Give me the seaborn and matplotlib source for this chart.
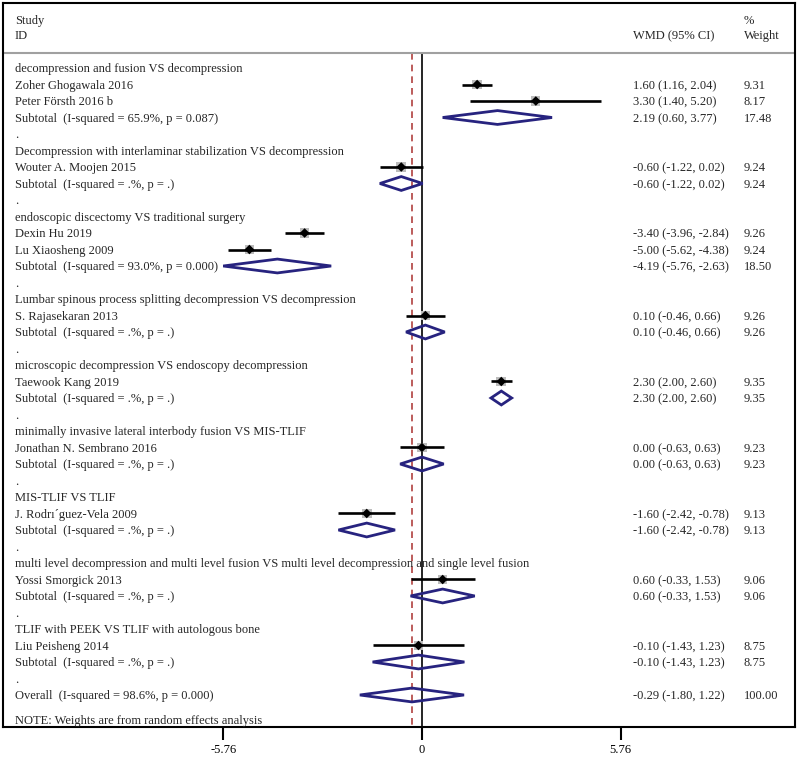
import numpy as np
import pandas as pd
import seaborn as sns
import matplotlib.pyplot as plt
from matplotlib.patches import Polygon

# data
group_titles = [
    "decompression and fusion VS decompression",
    "Decompression with interlaminar stabilization VS decompression",
    "endoscopic discectomy VS traditional surgery",
    "Lumbar spinous process splitting decompression VS decompression",
    "microscopic decompression VS endoscopy decompression",
    "minimally invasive lateral interbody fusion VS MIS-TLIF",
    "MIS-TLIF VS TLIF",
    "multi level decompression and multi level fusion VS multi level decompression and single level fusion",
    "TLIF with PEEK VS TLIF with autologous bone",
]
study_names = [
    "Zoher Ghogawala 2016", "Peter Försth 2016 b",
    "Wouter A. Moojen 2015",
    "Dexin Hu 2019", "Lu Xiaosheng 2009",
    "S. Rajasekaran 2013",
    "Taewook Kang 2019",
    "Jonathan N. Sembrano 2016",
    "J. Rodr\u0131\u00b4guez-Vela 2009",
    "Yossi Smorgick 2013",
    "Liu Peisheng 2014",
]
study_group = [0, 0, 1, 2, 2, 3, 4, 5, 6, 7, 8]
study_es = [1.60, 3.30, -0.60, -3.40, -5.00, 0.10, 2.30, 0.00, -1.60, 0.60, -0.10]
study_lo = [1.16, 1.40, -1.22, -3.96, -5.62, -0.46, 2.00, -0.63, -2.42, -0.33, -1.43]
study_hi = [2.04, 5.20, 0.02, -2.84, -4.38, 0.66, 2.60, 0.63, -0.78, 1.53, 1.23]
study_wt = [9.31, 8.17, 9.24, 9.26, 9.24, 9.26, 9.35, 9.23, 9.13, 9.06, 8.75]

sub_labels = [
    "Subtotal  (I-squared = 65.9%, p = 0.087)",
    "Subtotal  (I-squared = .%, p = .)",
    "Subtotal  (I-squared = 93.0%, p = 0.000)",
    "Subtotal  (I-squared = .%, p = .)",
    "Subtotal  (I-squared = .%, p = .)",
    "Subtotal  (I-squared = .%, p = .)",
    "Subtotal  (I-squared = .%, p = .)",
    "Subtotal  (I-squared = .%, p = .)",
    "Subtotal  (I-squared = .%, p = .)",
]
sub_es = [2.19, -0.60, -4.19, 0.10, 2.30, 0.00, -1.60, 0.60, -0.10]
sub_lo = [0.60, -1.22, -5.76, -0.46, 2.00, -0.63, -2.42, -0.33, -1.43]
sub_hi = [3.77, 0.02, -2.63, 0.66, 2.60, 0.63, -0.78, 1.53, 1.23]
sub_wt = [17.48, 9.24, 18.50, 9.26, 9.35, 9.23, 9.13, 9.06, 8.75]

overall_label = "Overall  (I-squared = 98.6%, p = 0.000)"
overall_es, overall_lo, overall_hi, overall_wt = -0.29, -1.80, 1.22, 100.00
note = "NOTE: Weights are from random effects analysis"
tick_vals = [-5.76, 0, 5.76]
tick_labels = ["-5.76", "0", "5.76"]

# build row layout
rows = []  # (row, label, kind, index)
r = 0
for g, title in enumerate(group_titles):
    rows.append((r, title, "title", g)); r += 1
    for i in [k for k, gg in enumerate(study_group) if gg == g]:
        rows.append((r, study_names[i], "study", i)); r += 1
    rows.append((r, sub_labels[g], "sub", g)); r += 1
    rows.append((r, ".", "dot", g)); r += 1
rows.append((r, overall_label, "overall", 0))
overall_row = r

study_row = {idx: row for row, _, kind, idx in rows if kind == "study"}
sub_row = {idx: row for row, _, kind, idx in rows if kind == "sub"}
df = pd.DataFrame({"es": study_es, "lo": study_lo, "hi": study_hi, "wt": study_wt,
                   "row": [study_row[i] for i in range(len(study_es))]})

sns.set_theme(style="white")
plt.rcParams['font.family'] = ['Liberation Serif', 'DejaVu Serif']

fig = plt.figure(figsize=(8, 7.57), dpi=100)
ax = fig.add_axes([3 / 800, 30 / 757, 792 / 800, 724 / 757])

y_top, y_bot = -3.94, 39.94
head_line = -0.91

# reference lines
ax.vlines(0, head_line, y_bot, color="black", lw=1.2, zorder=1)
ax.vlines(overall_es, head_line, y_bot, color="#b0413e", lw=1.2, linestyles=(0, (4, 3)), zorder=1)
ax.axhline(head_line, color="#a0a0a0", lw=1.5)

# study squares, CIs, points
sns.scatterplot(data=df, x="es", y="row", marker="s", size="wt",
                sizes=(5.2 * min(study_wt), 5.2 * max(study_wt)),
                color="#bcbcbc", edgecolor="none", legend=False, ax=ax, zorder=2)
ax.hlines(df["row"], df["lo"], df["hi"], color="black", lw=1.9, zorder=3)
sns.scatterplot(data=df, x="es", y="row", marker="D", s=24, color="black",
                edgecolor="none", legend=False, ax=ax, zorder=4)

# diamonds
h = 0.42
diamonds = [(sub_row[g], sub_es[g], sub_lo[g], sub_hi[g]) for g in range(len(sub_es))]
diamonds.append((overall_row, overall_es, overall_lo, overall_hi))
for y, es, lo, hi in diamonds:
    ax.add_patch(Polygon([(lo, y), (es, y - h), (hi, y), (es, y + h)], closed=True,
                         fill=False, edgecolor="#27237f", lw=2, zorder=5))

# text columns (baseline slightly below row centre)
trans = ax.get_yaxis_transform()
fs = 9
base = 0.26
x_lab, x_es, x_wt = 0.015, 0.795, 0.935


def put(x, y, s):
    ax.text(x, y + base, s, transform=trans, va="baseline", fontsize=fs)


put(x_lab, -2.91, "Study")
put(x_lab, -2.0, "ID")
put(x_es, -2.0, "WMD (95% CI)")
put(x_wt, -2.91, "%")
put(x_wt, -2.0, "Weight")

for row, label, kind, idx in rows:
    put(x_lab, row, label)
    if kind == "study":
        vals = (study_es[idx], study_lo[idx], study_hi[idx], study_wt[idx])
    elif kind == "sub":
        vals = (sub_es[idx], sub_lo[idx], sub_hi[idx], sub_wt[idx])
    elif kind == "overall":
        vals = (overall_es, overall_lo, overall_hi, overall_wt)
    else:
        continue
    put(x_es, row, f"{vals[0]:.2f} ({vals[1]:.2f}, {vals[2]:.2f})")
    put(x_wt, row, f"{vals[3]:.2f}")

put(x_lab, 39.5, note)

# axes
ax.set_xlim(-12.14, 10.81)
ax.set_ylim(y_bot, y_top)
ax.set_xticks(tick_vals)
ax.set_xticklabels(tick_labels, fontsize=fs)
ax.set_yticks([])
ax.set_xlabel("")
ax.set_ylabel("")
ax.tick_params(axis="x", direction="out", length=9, width=1.5, pad=3, bottom=True, colors="black")
for s in ax.spines.values():
    s.set_visible(True)
    s.set_color("black")
    s.set_linewidth(1.5)

fig.savefig("out.png", dpi=100)
